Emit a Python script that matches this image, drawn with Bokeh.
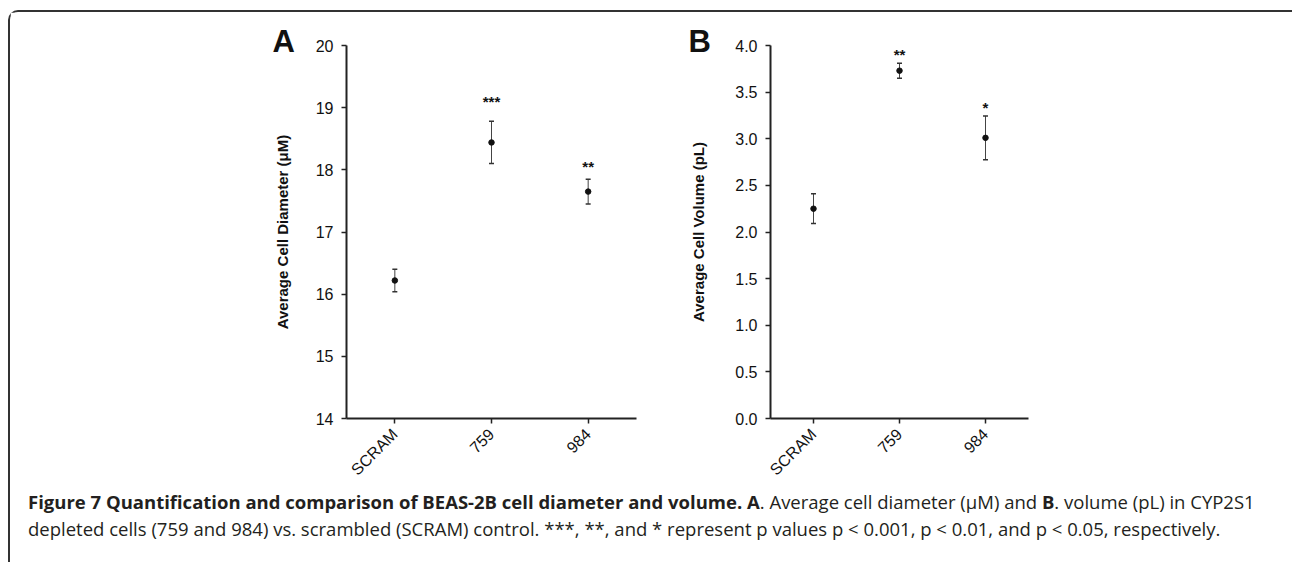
import math
from bokeh.plotting import figure
from bokeh.models import (ColumnDataSource, Whisker, Label, FixedTicker, Range1d,
                          FactorRange, Div, PrintfTickFormatter)
from bokeh.layouts import row, column
from bokeh.embed import file_html
from bokeh.resources import INLINE
from bokeh.core.properties import value

# ---------------- data ----------------
groups = ["SCRAM", "759", "984"]

diam_mean = [16.22, 18.44, 17.65]
diam_err = [0.18, 0.34, 0.20]
diam_sig_groups = ["759", "984"]
diam_sig_text = ["***", "**"]
diam_sig_y = [19.10, 18.05]
diam_ticks = [14, 15, 16, 17, 18, 19, 20]

vol_mean = [2.25, 3.73, 3.01]
vol_err = [0.16, 0.08, 0.235]
vol_sig_groups = ["759", "984"]
vol_sig_text = ["**", "*"]
vol_sig_y = [3.90, 3.33]
vol_ticks = [0.0, 0.5, 1.0, 1.5, 2.0, 2.5, 3.0, 3.5, 4.0]

FONT = "Liberation Sans"
INK = "#111111"


def panel(mean, err, sig_g, sig_t, sig_y, ticks, ylim, ylabel, fmt,
          frame_w, left, right, label_standoff, letter, letter_x):
    p = figure(x_range=FactorRange(*groups), y_range=Range1d(*ylim),
               frame_width=frame_w, frame_height=373,
               min_border_left=left, min_border_right=right,
               min_border_top=33, min_border_bottom=61,
               toolbar_location=None, output_backend="svg")
    p.outline_line_color = None
    p.xgrid.grid_line_color = None
    p.ygrid.grid_line_color = None
    p.background_fill_color = "white"
    p.border_fill_color = "white"

    src = ColumnDataSource(dict(
        x=groups, mean=mean,
        upper=[m + e for m, e in zip(mean, err)],
        lower=[m - e for m, e in zip(mean, err)]))
    w = Whisker(base="x", upper="upper", lower="lower", source=src,
                dimension="height", line_color="#444444", line_width=1)
    for h in (w.upper_head, w.lower_head):
        h.size = 5
        h.line_color = "#333333"
        h.line_width = 1.5
    p.add_layout(w)
    p.scatter("x", "mean", source=src, size=5.5, color=INK)

    ssrc = ColumnDataSource(dict(x=sig_g, y=sig_y, t=sig_t))
    p.text("x", "y", text="t", source=ssrc, text_align="center",
           text_baseline="middle", text_font=value(FONT),
           text_font_style="bold", text_font_size="15px", text_color=INK)

    p.yaxis.ticker = FixedTicker(ticks=ticks)
    p.yaxis.formatter = PrintfTickFormatter(format=fmt)
    p.yaxis.axis_label = ylabel
    p.yaxis.axis_label_text_font = FONT
    p.yaxis.axis_label_text_font_style = "bold"
    p.yaxis.axis_label_text_font_size = "15px"
    p.yaxis.axis_label_text_color = INK
    p.yaxis.axis_label_standoff = label_standoff
    p.yaxis.major_label_standoff = 8

    p.xaxis.major_label_orientation = math.pi / 4
    p.xaxis.major_label_standoff = 8

    for ax in (p.xaxis, p.yaxis):
        ax.axis_line_width = 2
        ax.axis_line_color = "#222222"
        ax.major_tick_line_width = 1.5
        ax.major_tick_line_color = "#222222"
        ax.major_tick_in = 0
        ax.major_tick_out = 5
        ax.minor_tick_line_color = None
        ax.major_label_text_font = FONT
        ax.major_label_text_font_size = "16px"
        ax.major_label_text_color = INK

    # panel letter in the left side panel (not clipped to the frame)
    p.add_layout(Label(x=letter_x, y=377, x_units="screen", y_units="screen",
                       text=letter, text_font=FONT, text_font_style="bold",
                       text_font_size="31px", text_color=INK,
                       text_align="left", text_baseline="alphabetic"), "left")
    return p


pa = panel(diam_mean, diam_err, diam_sig_groups, diam_sig_text, diam_sig_y,
           diam_ticks, (14, 20), "Average Cell Diameter (\u03bcM)", "%d",
           290, 336, 4, 22, "A", 24)
pb = panel(vol_mean, vol_err, vol_sig_groups, vol_sig_text, vol_sig_y,
           vol_ticks, (0, 4), "Average Cell Volume (pL)", "%.1f",
           258, 130, 256, 25, "B", 23)

caption = Div(
    text=('<div style="position:relative; top:-4px">'
          '<b>Figure 7 Quantification and comparison of BEAS-2B cell diameter and volume. A</b>. '
          'Average cell diameter (\u00b5M) and <b>B</b>. volume (pL) in CYP2S1<br>'
          'depleted cells (759 and 984) vs. scrambled (SCRAM) control. ***, **, and * represent '
          'p values p &lt; 0.001, p &lt; 0.01, and p &lt; 0.05, respectively.</div>'),
    width=1278, height=76,
    styles={"font-family": "Open Sans", "font-size": "18.5px", "line-height": "27px",
            "color": "#231f20", "padding-left": "13px", "padding-top": "0px",
            "white-space": "nowrap"})

layout = column(row(pa, pb), caption, margin=(10, 0, 0, 8),
                styles={"border-top": "2px solid #333333",
                        "border-left": "2px solid #333333",
                        "border-top-left-radius": "10px",
                        "background-color": "white"})

open("out.html", "w").write(file_html(layout, INLINE))
